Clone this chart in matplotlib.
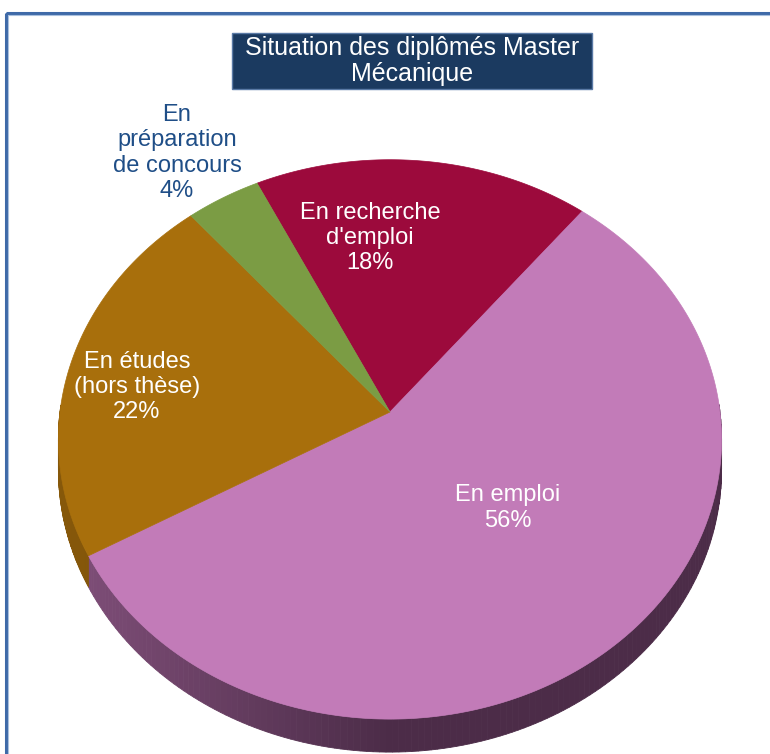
import numpy as np
import matplotlib.pyplot as plt
from matplotlib.colors import to_rgb
from matplotlib.patches import Polygon, Rectangle

# Data
labels = ["En recherche\nd'emploi", "En emploi", "En études\n(hors thèse)", "En\npréparation\nde concours"]
values = [18, 56, 22, 4]
colors = ["#9c0a3c", "#c27bb8", "#a86f0c", "#7b9c44"]
side_colors = ["#5c0624", "#4c2c48", "#6b4508", "#4d6228"]
label_colors = ["white", "white", "white", "#1f4e87"]
label_pos = [(370, 238), (508, 508), (137, 387), (177, 153)]
title = "Situation des diplômés Master\nMécanique"

# Perspective pie geometry (pixel space)
cx, cy = 390, 412
sx, sy, k = 330, 277, 0.098
depth = 33
start = 116.0


def project(t):
    x, y = np.cos(t), np.sin(t)
    w = 1 + k * y
    return cx + sx * x / w, cy - sy * y / w


def side_depth(t):
    return depth * (1 - k) / (1 + k * np.sin(t))


plt.rcParams['font.family'] = ['Liberation Sans', 'DejaVu Sans']
fig = plt.figure(figsize=(7.7, 7.54), dpi=100)
ax = fig.add_axes([0, 0, 1, 1])
ax.set_xlim(0, 770)
ax.set_ylim(754, 0)
ax.axis('off')

# frame
ax.add_patch(Rectangle((6, 13), 900, 900, fill=False, edgecolor='#3f6aa8', lw=2.2))
ax.add_patch(Rectangle((8, 15), 900, 900, fill=False, edgecolor='#a9c0de', lw=0.8))

# wedge angles (clockwise from start)
frac = np.array(values) / sum(values) * 360
bounds = start - np.concatenate([[0], np.cumsum(frac)])

# sides first
for i in range(len(values)):
    a0, a1 = bounds[i], bounds[i + 1]
    ts = np.radians(np.linspace(a0, a1, 200))
    for t0, t1 in zip(ts[:-1], ts[1:]):
        if np.sin(t0) > 0.02 and np.sin(t1) > 0.02:
            continue
        x0, y0 = project(t0)
        x1, y1 = project(t1)
        d0, d1 = side_depth(t0), side_depth(t1)
        # lighter on the left part of the rim
        xm = 0.5 * (x0 + x1)
        f = np.clip((cx - xm) / sx, 0, 1) * 0.45
        base = np.array(to_rgb(side_colors[i]))
        c = base + (np.array(to_rgb(colors[i])) - base) * f
        ax.add_patch(Polygon([(x0, y0), (x1, y1), (x1, y1 + d1), (x0, y0 + d0)],
                             closed=True, facecolor=c, edgecolor=c, lw=0.6))

# tops
for i in range(len(values)):
    a0, a1 = bounds[i], bounds[i + 1]
    ts = np.radians(np.linspace(a0, a1, 200))
    px, py = project(ts)
    pts = [(cx, cy)] + list(zip(px, py))
    ax.add_patch(Polygon(pts, closed=True, facecolor=colors[i], edgecolor=colors[i], lw=0.5))

# labels
for i in range(len(values)):
    ax.text(label_pos[i][0], label_pos[i][1], f"{labels[i]}\n{values[i]}%",
            ha='center', va='center', color=label_colors[i], fontsize=17, linespacing=1.2)

# title box
ax.add_patch(Rectangle((232, 33), 360, 56, facecolor='#1b3a60', edgecolor='#5a7aa6', lw=1))
ax.text(412, 61, title, ha='center', va='center', color='white', fontsize=18, linespacing=1.12)

fig.savefig('out.png', dpi=100)
